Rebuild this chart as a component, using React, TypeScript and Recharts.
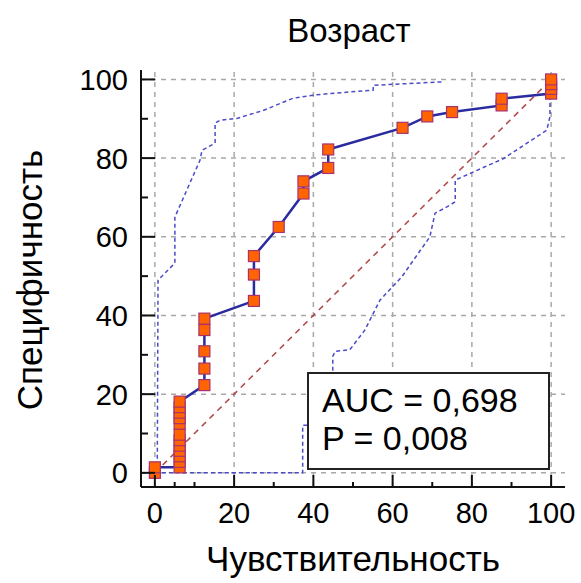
import { LineChart, Line, XAxis, YAxis, ReferenceLine } from "recharts";

// ROC curve points (sensitivity on x, specificity on y as labelled in the picture)
const rocSens = [
  0, 0, 6.25, 6.25, 6.25, 6.25, 6.25, 6.25, 6.25, 6.25, 6.25, 6.25, 6.25, 6.25,
  12.5, 12.5, 12.5, 12.5, 12.5, 25, 25, 25, 31.25, 37.5, 37.5, 43.75, 43.75,
  62.5, 68.75, 75, 87.5, 87.5, 100, 100, 100, 100,
];
const rocSpec = [
  0, 1.4, 1.4, 2.8, 4.2, 5.6, 6.9, 8.3, 9.7, 12.5, 13.9, 15.3, 16.7, 18.1,
  22.3, 26.5, 30.9, 36.3, 39.2, 43.7, 50.4, 55.1, 62.5, 71.0, 74.1, 77.5, 82.2,
  87.7, 90.6, 91.7, 93.4, 95.1, 96.4, 97.6, 98.8, 100,
];

// confidence bounds
const upperX = [0.6, 0.8, 5.05, 5.05, 11.4, 11.9, 15.2, 15.2, 16.4, 20.7, 27.3, 34.8, 39.9, 44.2, 55.1, 55.1, 72.7];
const upperY = [0, 49.0, 53.3, 65.0, 79.5, 82.0, 83.8, 88.9, 89.6, 90.1, 92.1, 95.2, 96.0, 96.4, 97.3, 98.5, 99.4];
const lowerX = [0, 37.3, 37.3, 44.9, 44.9, 45.5, 49.2, 53, 56.8, 62.3, 69.4, 70.7, 73.7, 75.8, 75.8, 79.5, 88, 98.9, 99.7, 99.7, 100];
const lowerY = [0, 0, 12.1, 12.1, 29.6, 30.9, 31.3, 36.3, 43.9, 49.8, 60, 66, 67.6, 68.9, 74.4, 76.1, 79.9, 87.1, 90.5, 95.5, 100];

const diagX = [0, 100];
const diagY = [0, 100];

const gridValues = [0, 20, 40, 60, 80, 100];
const tickValues = [0, 5, 10, 15, 20, 25, 30, 35, 40, 45, 50, 55, 60, 65, 70, 75, 80, 85, 90, 95, 100];

const rocData = rocSens.map((x, i) => ({ x, y: rocSpec[i] }));
const upperData = upperX.map((x, i) => ({ x, y: upperY[i] }));
const lowerData = lowerX.map((x, i) => ({ x, y: lowerY[i] }));
const diagData = diagX.map((x, i) => ({ x, y: diagY[i] }));

const FONT = '"Liberation Sans", Arial, sans-serif';

const SquareDot = (props: any) => {
  const { cx, cy, index } = props;
  if (cx == null || cy == null) return <g key={index} />;
  return (
    <rect
      key={index}
      x={cx - 5.5}
      y={cy - 5.5}
      width={11}
      height={11}
      fill="#FF6400"
      stroke="#A8326E"
      strokeWidth={1.2}
    />
  );
};

const XTick = (props: any) => {
  const { x, y, payload } = props;
  const major = payload.value % 20 === 0;
  const axisY = y - 10;
  return (
    <g>
      <line x1={x} x2={x} y1={axisY} y2={axisY - (major ? 12 : 5)} stroke="#111" strokeWidth={2} />
      {major && (
        <text x={x} y={y + 26} textAnchor="middle" fontSize={29} fontFamily={FONT} fill="#000">
          {payload.value}
        </text>
      )}
    </g>
  );
};

const YTick = (props: any) => {
  const { x, y, payload } = props;
  const major = payload.value % 20 === 0;
  const axisX = x + 13;
  return (
    <g>
      <line x1={axisX} x2={axisX + (major ? 14 : 7)} y1={y} y2={y} stroke="#111" strokeWidth={2} />
      {major && (
        <text x={x} y={y + 10.5} textAnchor="end" fontSize={29} fontFamily={FONT} fill="#000">
          {payload.value}
        </text>
      )}
    </g>
  );
};

export default function App() {
  return (
    <div style={{ position: "absolute", left: 0, top: 0, width: 581, height: 583, background: "#fff" }}>
      <div
        style={{
          position: "absolute",
          left: 137,
          width: 424,
          top: 12,
          textAlign: "center",
          fontFamily: FONT,
          fontSize: 33,
          color: "#000",
        }}
      >
        Возраст
      </div>
      <LineChart width={581} height={583} margin={{ top: 70, right: 16, left: 0, bottom: 0 }}>
        <XAxis
          type="number"
          dataKey="x"
          domain={[-3.5, 103.5]}
          ticks={tickValues}
          allowDataOverflow
          height={96}
          tickSize={0}
          tickMargin={10}
          tick={<XTick />}
          axisLine={{ stroke: "#111", strokeWidth: 2 }}
          label={{
            value: "Чувствительность",
            position: "insideBottom",
            offset: 12,
            fontSize: 35,
            fontFamily: FONT,
            fill: "#000",
          }}
        />
        <YAxis
          type="number"
          dataKey="y"
          domain={[-3.6, 102.4]}
          ticks={tickValues}
          allowDataOverflow
          width={141}
          tickSize={0}
          tickMargin={13}
          tick={<YTick />}
          axisLine={{ stroke: "#111", strokeWidth: 2 }}
          label={{
            content: () => (
              <text
                x={42}
                y={280}
                transform="rotate(-90 42 280)"
                textAnchor="middle"
                fontSize={35}
                fontFamily={FONT}
                fill="#000"
              >
                Специфичность
              </text>
            ),
          }}
        />
        {gridValues.map((v) => (
          <ReferenceLine key={`gx${v}`} x={v} stroke="#a8a8a8" strokeWidth={1.5} strokeDasharray="5 5" />
        ))}
        {gridValues.map((v) => (
          <ReferenceLine key={`gy${v}`} y={v} stroke="#a8a8a8" strokeWidth={1.5} strokeDasharray="5 5" />
        ))}
        <Line
          data={diagData}
          dataKey="y"
          type="linear"
          stroke="#B04A4A"
          strokeWidth={1.5}
          strokeDasharray="6 5"
          dot={false}
          isAnimationActive={false}
        />
        <Line
          data={upperData}
          dataKey="y"
          type="linear"
          stroke="#4B4BC8"
          strokeWidth={1.5}
          strokeDasharray="4 3"
          dot={false}
          isAnimationActive={false}
        />
        <Line
          data={lowerData}
          dataKey="y"
          type="linear"
          stroke="#4B4BC8"
          strokeWidth={1.5}
          strokeDasharray="4 3"
          dot={false}
          isAnimationActive={false}
        />
        <Line
          data={rocData}
          dataKey="y"
          type="linear"
          stroke="#2B2BA0"
          strokeWidth={2.5}
          dot={SquareDot}
          activeDot={false}
          isAnimationActive={false}
        />
      </LineChart>
      <div
        style={{
          position: "absolute",
          left: 307,
          top: 372,
          width: 243,
          height: 98,
          border: "2px solid #222",
          background: "#fff",
          fontFamily: FONT,
          fontSize: 34,
          lineHeight: "38px",
          color: "#000",
          padding: "7px 0 0 13px",
          boxSizing: "border-box",
          whiteSpace: "nowrap",
        }}
      >
        <div>AUC = 0,698</div>
        <div>P = 0,008</div>
      </div>
    </div>
  );
}
